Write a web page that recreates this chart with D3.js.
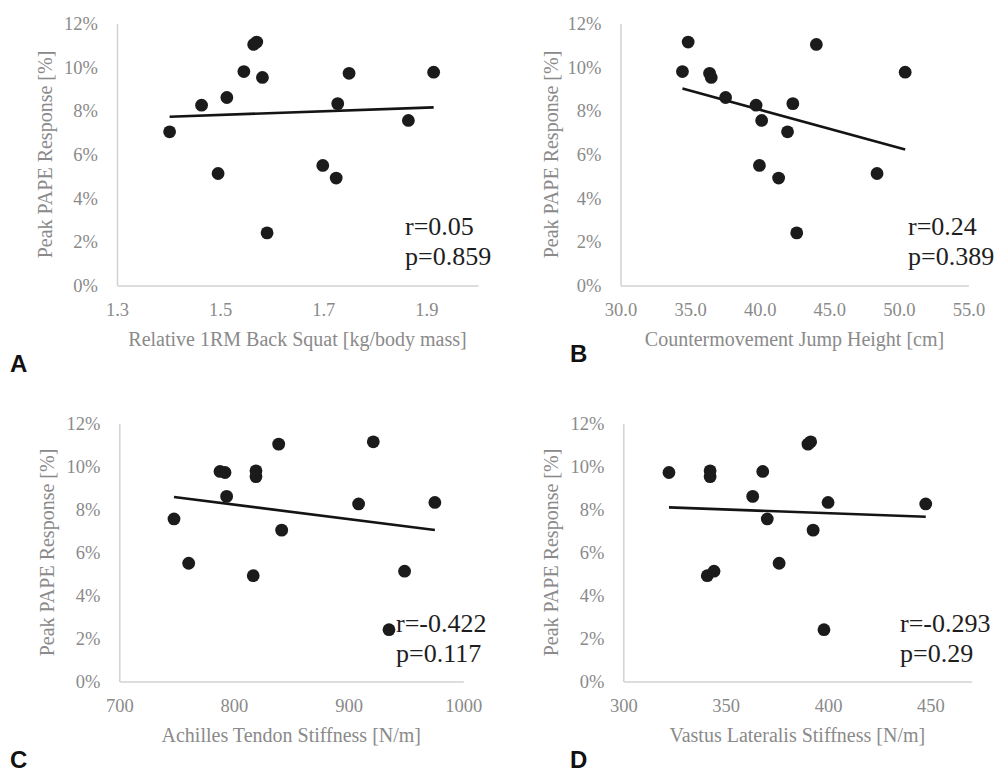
<!DOCTYPE html>
<html>
<head>
<meta charset="utf-8">
<script src="https://cdn.jsdelivr.net/npm/d3@7"></script>
<style>
  html, body { margin: 0; padding: 0; background: #fff; }
  svg { display: block; }
  .axis-title { font-family: 'Liberation Serif', 'Times New Roman', serif; font-size: 20px; fill: #8a8a8a; }
  .stat { font-family: 'Liberation Serif', 'Times New Roman', serif; font-size: 26px; fill: #1e1e1e; }
  .letter { font-family: 'Liberation Sans', Arial, sans-serif; font-size: 24px; font-weight: bold; fill: #111; }
</style>
</head>
<body>
<svg id="chart" width="997" height="774"></svg>
<script>
// peak PAPE response per subject (%), same subjects in every panel
const pape = [2.41, 4.92, 5.13, 5.50, 7.04, 7.56, 8.26, 8.33, 8.61, 9.53, 9.72, 9.77, 9.80, 11.04, 11.15]

// predictors, in the same subject order
const squat = [1.591, 1.725, 1.496, 1.699, 1.402, 1.865, 1.464, 1.728, 1.513, 1.582, 1.750, 1.914, 1.546, 1.565, 1.571]
const cmj = [42.66, 41.36, 48.43, 39.98, 42.0, 40.14, 39.74, 42.38, 37.55, 36.52, 36.4, 50.45, 34.45, 44.07, 34.86]
const achilles = [935.2, 816.8, 948.8, 760.5, 841.6, 747.7, 908.7, 975.2, 793.6, 819.2, 792.2, 787.8, 819.2, 839.0, 921.5]
const vastus = [398.0, 341.0, 344.3, 376.1, 392.7, 370.3, 447.7, 400.0, 363.2, 342.4, 322.3, 368.1, 342.4, 390.2, 391.5]

// trend line value at the lowest and highest predictor value
const trendSquat = [7.73, 8.16]
const trendCmj = [9.02, 6.23]
const trendAchilles = [8.58, 7.05]
const trendVastus = [8.10, 7.66]

// tick labels
const papeTicks = [0, 2, 4, 6, 8, 10, 12]
const squatTicks = [1.3, 1.5, 1.7, 1.9]
const cmjTicks = [30, 35, 40, 45, 50, 55]
const achillesTicks = [700, 800, 900, 1000]
const vastusTicks = [300, 350, 400, 450]

const rLabels = ['r=0.05', 'r=0.24', 'r=-0.422', 'r=-0.293']
const pLabels = ['p=0.859', 'p=0.389', 'p=0.117', 'p=0.29']
const xTitles = [
  'Relative 1RM Back Squat [kg/body mass]',
  'Countermovement Jump Height [cm]',
  'Achilles Tendon Stiffness [N/m]',
  'Vastus Lateralis Stiffness [N/m]'
]
const letters = ['A', 'B', 'C', 'D']

const panels = [
  { x: squat, trend: trendSquat, ticks: squatTicks, domain: [1.3, 2.0], fmt: d3.format('.1f'),
    xr: [117, 478], yr: [285.5, 23.5], ytitle: 45, stat: [405, 235], letter: [10, 372] },
  { x: cmj, trend: trendCmj, ticks: cmjTicks, domain: [30, 55], fmt: d3.format('.1f'),
    xr: [620.5, 968.5], yr: [285.5, 23.5], ytitle: 551, stat: [908, 235], letter: [570, 362] },
  { x: achilles, trend: trendAchilles, ticks: achillesTicks, domain: [700, 1000], fmt: d3.format('d'),
    xr: [119.3, 463.3], yr: [681.5, 423.5], ytitle: 47, stat: [396, 632], letter: [10, 768] },
  { x: vastus, trend: trendVastus, ticks: vastusTicks, domain: [300, 470], fmt: d3.format('d'),
    xr: [623.3, 971.4], yr: [681.5, 423.5], ytitle: 551, stat: [900, 632], letter: [570, 768] }
]

const svg = d3.select('#chart')

function styleAxis (sel) {
  sel.select('.domain')
    .attr('fill', 'none')
    .attr('stroke', '#d2d2d2')
    .attr('stroke-width', 1.5)
  sel.selectAll('.tick text')
    .style('font-family', "'Liberation Serif', 'Times New Roman', serif")
    .style('font-size', '18.5px')
    .style('fill', '#8a8a8a')
}

panels.forEach((p, i) => {
  const x = d3.scaleLinear().domain(p.domain).range(p.xr)
  const y = d3.scaleLinear().domain([0, 12]).range(p.yr)
  const g = svg.append('g')

  // axes
  g.append('g')
    .attr('transform', `translate(0, ${p.yr[0]})`)
    .call(d3.axisBottom(x).tickValues(p.ticks).tickFormat(p.fmt).tickSize(0).tickPadding(17.5))
    .call(styleAxis)
  g.append('g')
    .attr('transform', `translate(${p.xr[0]}, 0)`)
    .call(d3.axisLeft(y).tickValues(papeTicks).tickFormat(d => d + '%').tickSize(0).tickPadding(19))
    .call(styleAxis)

  // axis titles
  g.append('text')
    .attr('class', 'axis-title')
    .attr('x', (p.xr[0] + p.xr[1]) / 2)
    .attr('y', p.yr[0] + 60)
    .attr('text-anchor', 'middle')
    .text(xTitles[i])
  g.append('text')
    .attr('class', 'axis-title')
    .attr('transform', `translate(${p.ytitle}, ${(p.yr[0] + p.yr[1]) / 2}) rotate(-90)`)
    .attr('dy', '0.35em')
    .attr('text-anchor', 'middle')
    .text('Peak PAPE Response [%]')

  // trend line
  const ext = d3.extent(p.x)
  g.append('line')
    .attr('x1', x(ext[0]))
    .attr('y1', y(p.trend[0]))
    .attr('x2', x(ext[1]))
    .attr('y2', y(p.trend[1]))
    .attr('stroke', '#141414')
    .attr('stroke-width', 2.6)

  // points
  g.selectAll('circle')
    .data(p.x.map((v, j) => ({ x: v, y: pape[j] })))
    .enter()
    .append('circle')
      .attr('cx', d => x(d.x))
      .attr('cy', d => y(d.y))
      .attr('r', 6.4)
      .attr('fill', '#1b1b1b')

  // stats
  g.append('text')
    .attr('class', 'stat')
    .attr('x', p.stat[0])
    .attr('y', p.stat[1])
    .text(rLabels[i])
  g.append('text')
    .attr('class', 'stat')
    .attr('x', p.stat[0])
    .attr('y', p.stat[1] + 30)
    .text(pLabels[i])

  // panel letter
  g.append('text')
    .attr('class', 'letter')
    .attr('x', p.letter[0])
    .attr('y', p.letter[1])
    .text(letters[i])
})
</script>
</body>
</html>
